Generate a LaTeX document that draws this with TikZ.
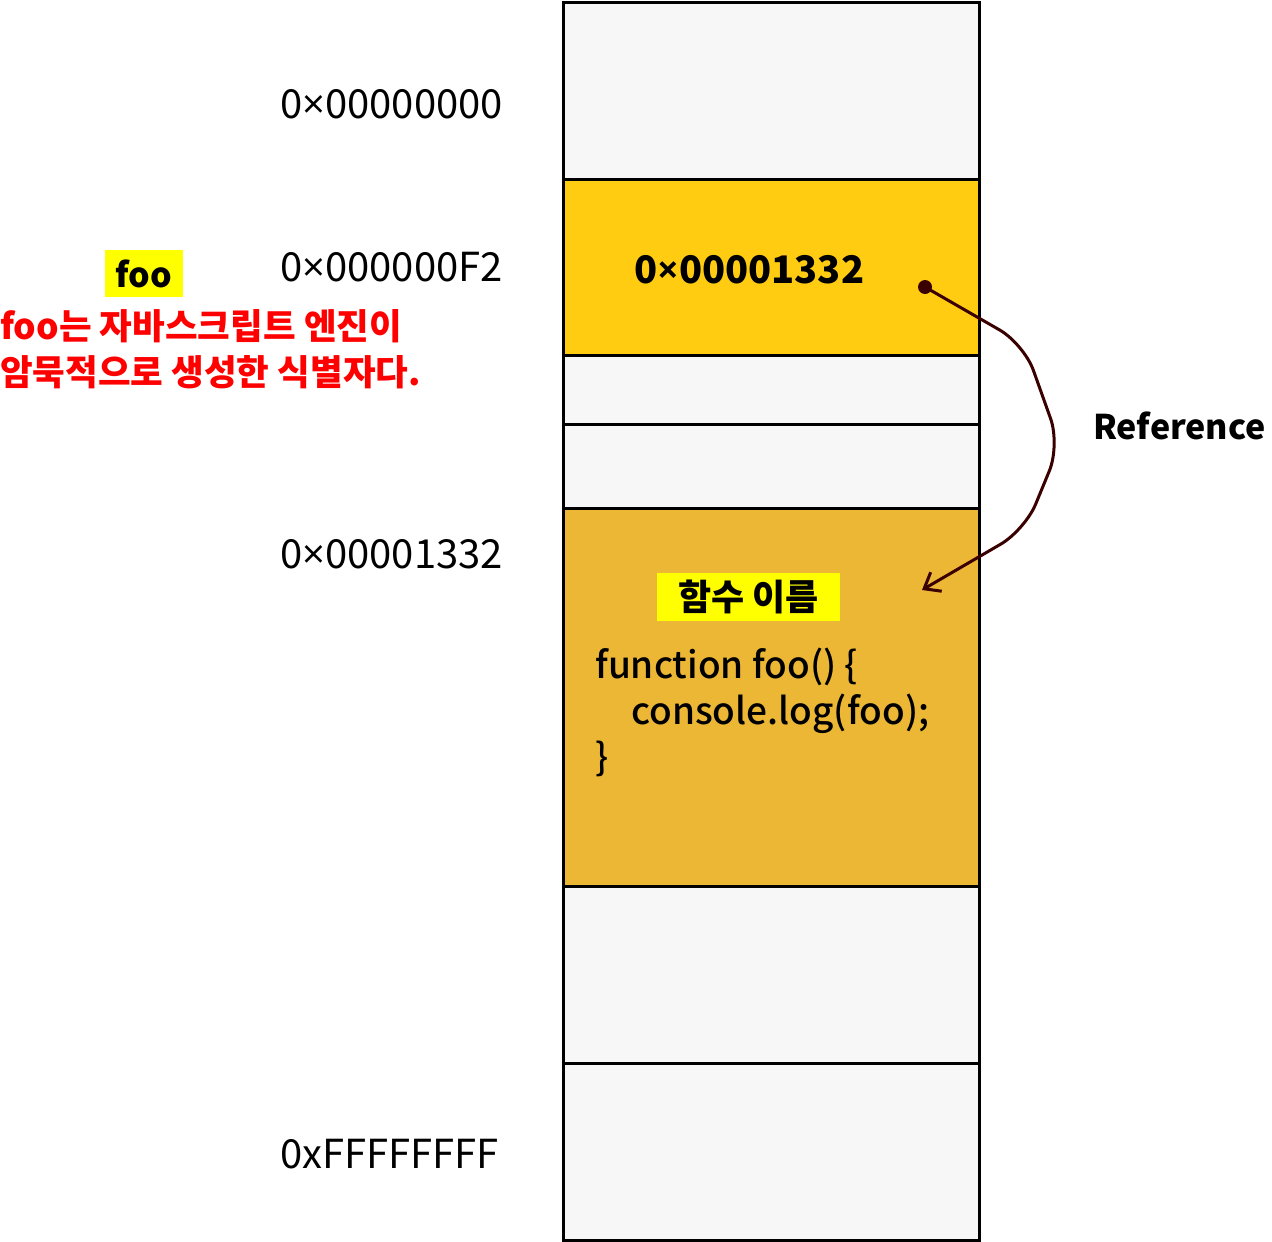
\documentclass[tikz,border=0pt]{standalone}
\usepackage{fontspec}
\setmainfont{Noto Sans CJK KR}
\newfontfamily\kr{Noto Sans CJK KR}
\newfontfamily\krmed{Noto Sans CJK KR Medium}
\newfontfamily\xsym{Open Sans}
\newcommand{\tms}{{\xsym ×}}
\usetikzlibrary{arrows.meta}
\definecolor{cellgray}{HTML}{F7F7F7}
\definecolor{ptrgold}{HTML}{FFCC11}
\definecolor{fngold}{HTML}{ECB735}
\definecolor{hlyellow}{HTML}{FFFF00}
\definecolor{arrowbrown}{HTML}{3A0000}
\definecolor{notered}{HTML}{FF0000}
\tikzset{
  cell/.style={draw=black, line width=3pt, minimum width=416pt, inner sep=0pt, outer sep=0pt, anchor=center},
  addr/.style={anchor=west, inner sep=0pt, font=\fontsize{40pt}{46pt}\selectfont},
  hl/.style={fill=hlyellow, inner sep=0pt, anchor=center},
  code/.style={anchor=base west, inner sep=0pt, font=\krmed\fontsize{37pt}{44pt}\selectfont},
  note/.style={anchor=base west, inner sep=0pt, text=notered, font=\kr\bfseries\fontsize{35.5pt}{42pt}\selectfont},
  refarrow/.style={draw=arrowbrown, line width=3pt, rounded corners=28pt, -{Straight Barb[length=14pt,width=22pt,line width=3pt]}}
}
\begin{document}
\begin{tikzpicture}[x=1pt,y=-1pt]
\useasboundingbox (0,0) rectangle (1272,1242);
% memory cells
\node[cell, fill=cellgray, minimum height=177pt] (c1) at (771,90.5) {};
\node[cell, fill=ptrgold, minimum height=176pt] (c2) at (771,267) {};
\node[cell, fill=cellgray, minimum height=69pt] (c3) at (771,389.5) {};
\node[cell, fill=cellgray, minimum height=84pt] (c4) at (771,466) {};
\node[cell, fill=fngold, minimum height=378pt] (c5) at (771,697) {};
\node[cell, fill=cellgray, minimum height=177pt] (c6) at (771,974.5) {};
\node[cell, fill=cellgray, minimum height=177pt] (c7) at (771,1151.5) {};
% address labels
\node[addr] (a1) at (280,104) {0\tms00000000};
\node[addr] (a2) at (280,267) {0\tms000000F2};
\node[addr] (a3) at (280,554) {0\tms00001332};
\node[addr] (a4) at (280,1154) {0xFFFFFFFF};
% pointer value
\node[addr, font=\bfseries\fontsize{38pt}{44pt}\selectfont] (pv) at (634,270) {0\tms00001332};
% foo label
\node[hl, minimum width=78pt, minimum height=47pt, font=\bfseries\fontsize{34pt}{40pt}\selectfont] (foo) at (144,273.5) {foo};
\node[note] (n1) at (0,339) {foo는 자바스크립트 엔진이};
\node[note] (n2) at (0,385) {암묵적으로 생성한 식별자다.};
% function name
\node[hl, minimum width=183pt, minimum height=48pt, font=\kr\bfseries\fontsize{36pt}{42pt}\selectfont] (fname) at (748.5,597) {함수 이름};
% code
\node[code] (l1) at (595,678) {function foo() \{};
\node[code] (l2) at (631,724) {console.log(foo);};
\node[code] (l3) at (595,770) {\}};
% reference
\node[addr, font=\bfseries\fontsize{34pt}{40pt}\selectfont] (reflbl) at (1093,426) {Reference};
\coordinate (src) at (925,287);
\coordinate (dst) at (922,590);
\fill[arrowbrown] (src) circle (7pt);
\draw[refarrow] (src) -- (1024,344) -- (1060,445) -- (1025,530) -- (dst);
\end{tikzpicture}
\end{document}
